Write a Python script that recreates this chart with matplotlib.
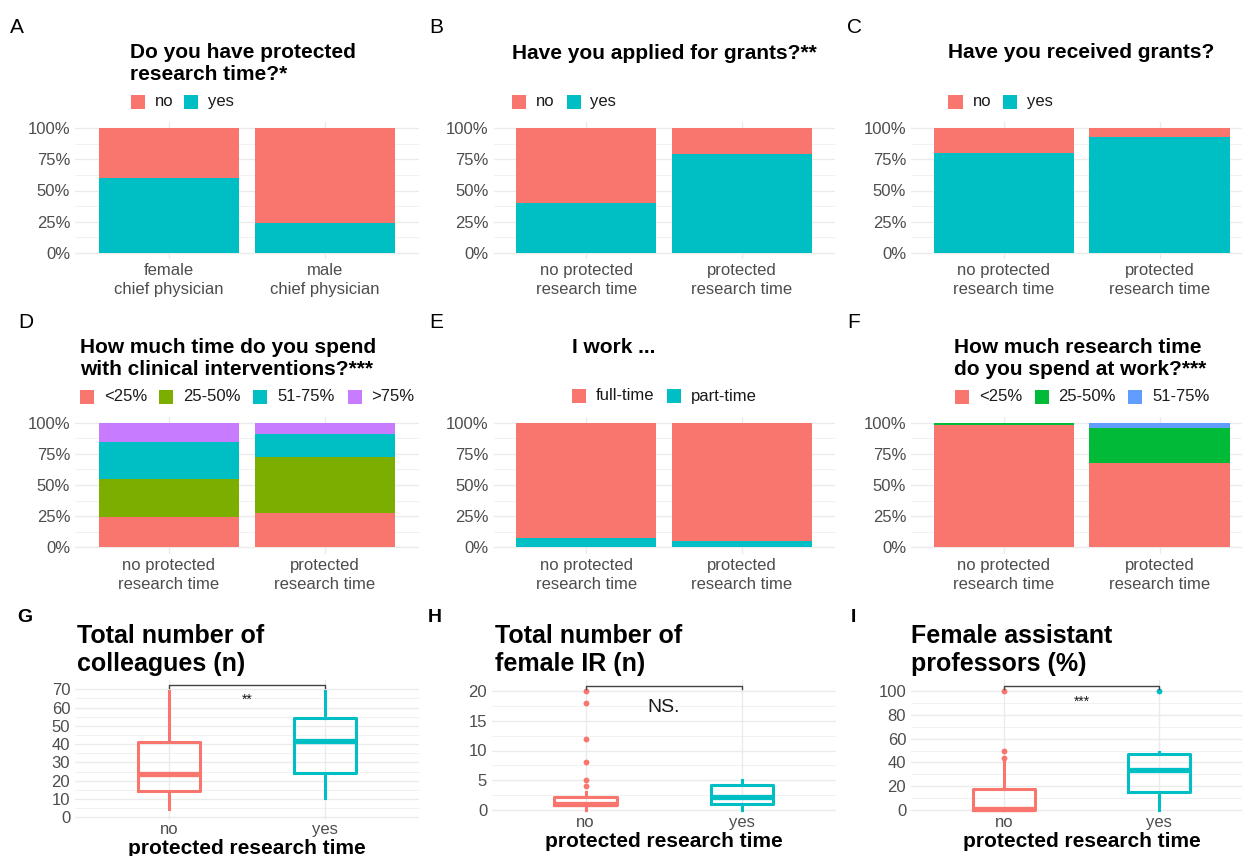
import matplotlib
matplotlib.use("Agg")
import matplotlib.pyplot as plt
from matplotlib.patches import Rectangle

plt.rcParams['font.family'] = ['Liberation Sans', 'DejaVu Sans']

# ---------------- data ----------------
RED, TEAL = '#F8766D', '#00BFC4'
GREEN4, PURPLE = '#7CAE00', '#C77CFF'
GREEN3, BLUE = '#00BA38', '#619CFF'

sex_groups = ["female\nchief physician", "male\nchief physician"]
prt_groups = ["no protected\nresearch time", "protected\nresearch time"]

# A: protected research time by sex (%)
a_yes = [60.2, 23.7]
a_no = [39.8, 76.3]
# B: applied for grants (%)
b_yes = [40.0, 79.2]
b_no = [60.0, 20.8]
# C: received grants (%)
c_yes = [79.7, 92.5]
c_no = [20.3, 7.5]
# D: time with clinical interventions (%)
d_lt25 = [24.6, 27.3]
d_25_50 = [30.2, 44.9]
d_51_75 = [29.5, 19.0]
d_gt75 = [15.7, 8.8]
# E: work (%)
e_part = [7.2, 4.8]
e_full = [92.8, 95.2]
# F: research time at work (%)
f_lt25 = [98.4, 67.9]
f_25_50 = [1.6, 28.1]
f_51_75 = [0.0, 4.0]

box_groups = ["no", "yes"]
# G: total number of colleagues
g_stats = [dict(whislo=4.5, q1=14.5, med=23.8, q3=41.2, whishi=69, fliers=[]),
           dict(whislo=10.5, q1=24.5, med=42.0, q3=54.3, whishi=69, fliers=[])]
# H: total number of female IR
h_stats = [dict(whislo=0, q1=0.8, med=1.0, q3=2.2, whishi=3, fliers=[4, 5, 8, 12, 18, 20]),
           dict(whislo=0, q1=1.0, med=2.2, q3=4.2, whishi=5, fliers=[])]
# I: female assistant professors (%)
i_stats = [dict(whislo=0, q1=0, med=0.5, q3=17.4, whishi=41, fliers=[44, 50, 100]),
           dict(whislo=0, q1=15.4, med=33.6, q3=47.1, whishi=49, fliers=[100])]

# ---------------- figure ----------------
W, H = 1242, 856
fig = plt.figure(figsize=(W / 100, H / 100), dpi=100)
GRID = '#EBEBEB'
TICK = '#4D4D4D'


def fx(x):
    return x / W


def fy(y):
    return 1 - y / H


def cal_ax(left, right, top, bottom, x1p, x2p, v0, p0, v1, p1):
    ax = fig.add_axes([fx(left), fy(bottom), (right - left) / W, (bottom - top) / H])
    ux = x2p - x1p
    ax.set_xlim(1 + (left - x1p) / ux, 1 + (right - x1p) / ux)
    uy = (p0 - p1) / (v1 - v0)
    ax.set_ylim(v0 - (bottom - p0) / uy, v0 + (p0 - top) / uy)
    for s in ax.spines.values():
        s.set_visible(False)
    ax.set_facecolor('none')
    ax.tick_params(length=0, labelsize=12, labelcolor=TICK)
    ax.tick_params(axis='y', pad=3.5)
    ax.set_axisbelow(True)
    return ax


def grid(ax, major, minor):
    ax.set_yticks(major)
    ax.set_yticks(minor, minor=True)
    ax.tick_params(which='minor', length=0)
    ax.grid(axis='y', which='major', color=GRID, lw=1.0)
    ax.grid(axis='y', which='minor', color=GRID, lw=0.5)
    ax.grid(axis='x', which='major', color=GRID, lw=1.0)


def legend(y, entries):
    for color, label, tx in entries:
        kx = tx - 24
        fig.add_artist(Rectangle((fx(kx), fy(y + 7)), 14 / W, 14 / H,
                                 transform=fig.transFigure, color=color, lw=0))
        fig.text(fx(tx), fy(y), label, fontsize=12, va='center', ha='left', color='#1A1A1A')


def title(x, y_last_baseline, s, size=15):
    fig.text(fx(x), fy(y_last_baseline), s, fontsize=size, fontweight='bold',
             va='baseline', ha='left', linespacing=1.2)


def letter(x, y, s, bold=False, size=15):
    fig.text(fx(x), fy(y), s, fontsize=size, fontweight='bold' if bold else 'normal',
             va='baseline', ha='left')


def stacked(ax, groups, layers):
    xs = [1, 2]
    bottom = [0, 0]
    for vals, color in layers:
        ax.bar(xs, vals, bottom=bottom, width=0.9, color=color, lw=0)
        bottom = [b + v for b, v in zip(bottom, vals)]
    ax.set_xticks(xs)
    ax.set_xticklabels(groups, linespacing=1.32)
    ax.tick_params(axis='x', pad=3.0)
    pct = [0, 25, 50, 75, 100]
    grid(ax, pct, [12.5, 37.5, 62.5, 87.5])
    ax.set_yticklabels([f"{p}%" for p in pct])


# column pixel calibrations
cols = [(75, 419, 169.0, 324.6), (493.5, 834.8, 586.3, 741.8), (911, 1252, 1003.8, 1159.6)]

# ---- row 1 ----
r1 = (121.75, 259.25, 0, 253, 100, 128)
axA = cal_ax(cols[0][0], cols[0][1], r1[0], r1[1], cols[0][2], cols[0][3], *r1[2:])
stacked(axA, sex_groups, [(a_yes, TEAL), (a_no, RED)])
axB = cal_ax(cols[1][0], cols[1][1], r1[0], r1[1], cols[1][2], cols[1][3], *r1[2:])
stacked(axB, prt_groups, [(b_yes, TEAL), (b_no, RED)])
axC = cal_ax(cols[2][0], cols[2][1], r1[0], r1[1], cols[2][2], cols[2][3], *r1[2:])
stacked(axC, prt_groups, [(c_yes, TEAL), (c_no, RED)])

letter(10, 33, "A")
letter(429, 33, "B")
letter(847, 33, "C")
title(130, 80.5, "Do you have protected\nresearch time?*")
title(512, 59, "Have you applied for grants?**")
title(948, 58.5, "Have you received grants?")
legend(101.5, [(RED, "no", 155), (TEAL, "yes", 208)])
legend(101.5, [(RED, "no", 536), (TEAL, "yes", 590.5)])
legend(101.5, [(RED, "no", 972.5), (TEAL, "yes", 1027)])

# ---- row 2 ----
r2 = (416.5, 553.5, 0, 547.3, 100, 422.7)
axD = cal_ax(cols[0][0], cols[0][1], r2[0], r2[1], cols[0][2], cols[0][3], *r2[2:])
stacked(axD, prt_groups, [(d_lt25, RED), (d_25_50, GREEN4), (d_51_75, TEAL), (d_gt75, PURPLE)])
axE = cal_ax(cols[1][0], cols[1][1], r2[0], r2[1], cols[1][2], cols[1][3], *r2[2:])
stacked(axE, prt_groups, [(e_part, TEAL), (e_full, RED)])
axF = cal_ax(cols[2][0], cols[2][1], r2[0], r2[1], cols[2][2], cols[2][3], *r2[2:])
stacked(axF, prt_groups, [(f_lt25, RED), (f_25_50, GREEN3), (f_51_75, BLUE)])

letter(18, 328.5, "D")
letter(429, 328.5, "E")
letter(847, 328.5, "F")
title(80, 375.5, "How much time do you spend\nwith clinical interventions?***")
title(572, 353.3, "I work ...")
title(954, 375.5, "How much research time\ndo you spend at work?***")
legend(396.5, [(RED, "<25%", 104), (GREEN4, "25-50%", 183.5),
               (TEAL, "51-75%", 277), (PURPLE, ">75%", 371.5)])
legend(396, [(RED, "full-time", 596), (TEAL, "part-time", 690.5)])
legend(396.5, [(RED, "<25%", 979), (GREEN3, "25-50%", 1058.5),
               (BLUE, "51-75%", 1152)])


# ---- row 3 ----
def boxes(ax, stats, major, minor, bracket_y, tick_h, label, label_size, label_y):
    for i, (st, color) in enumerate(zip(stats, [RED, TEAL])):
        ax.bxp([st], positions=[i + 1], widths=0.4, showcaps=False, patch_artist=False,
               boxprops=dict(color=color, lw=2.2),
               whiskerprops=dict(color=color, lw=2.2),
               medianprops=dict(color=color, lw=3.8, solid_capstyle='butt'),
               flierprops=dict(marker='o', markerfacecolor=color, markeredgecolor='none',
                               markersize=4.2))
    ax.set_xticks([1, 2])
    ax.set_xticklabels(box_groups)
    ax.tick_params(axis='x', pad=1.5)
    grid(ax, major, minor)
    ax.plot([1, 1, 2, 2], [bracket_y - tick_h, bracket_y, bracket_y, bracket_y - tick_h],
            color='#444444', lw=1.0, clip_on=False)
    ax.text(1.5, label_y, label, ha='center', va='center', fontsize=label_size, color='#1A1A1A')
    ax.set_xlabel("protected research time", fontsize=15, fontweight='bold', labelpad=1.5)


axG = cal_ax(75, 419, 680, 820, 169.0, 324.7, 0, 817.3, 70, 689.3)
boxes(axG, g_stats, list(range(0, 71, 10)), list(range(5, 70, 10)), 72.4, 1.6, "**", 10, 64.5)
axH = cal_ax(492, 836, 680, 813, 585.7, 742.0, 0, 810, 20, 691)
boxes(axH, h_stats, [0, 5, 10, 15, 20], [2.5, 7.5, 12.5, 17.5], 20.8, 0.5, "NS.", 14, 17.3)
axI = cal_ax(911, 1252, 680, 813, 1004.0, 1159.3, 0, 810, 100, 691)
boxes(axI, i_stats, list(range(0, 101, 20)), list(range(10, 100, 20)), 104.2, 2.5, "***", 10, 91)

letter(17, 621.7, "G", bold=True, size=14)
letter(428, 621.7, "H", bold=True, size=14)
letter(851, 621.7, "I", bold=True, size=14)
title(77, 670.5, "Total number of\ncolleagues (n)", size=18)
title(495, 670.5, "Total number of\nfemale IR (n)", size=18)
title(911, 670.5, "Female assistant\nprofessors (%)", size=18)

fig.savefig("out.png", dpi=100)
